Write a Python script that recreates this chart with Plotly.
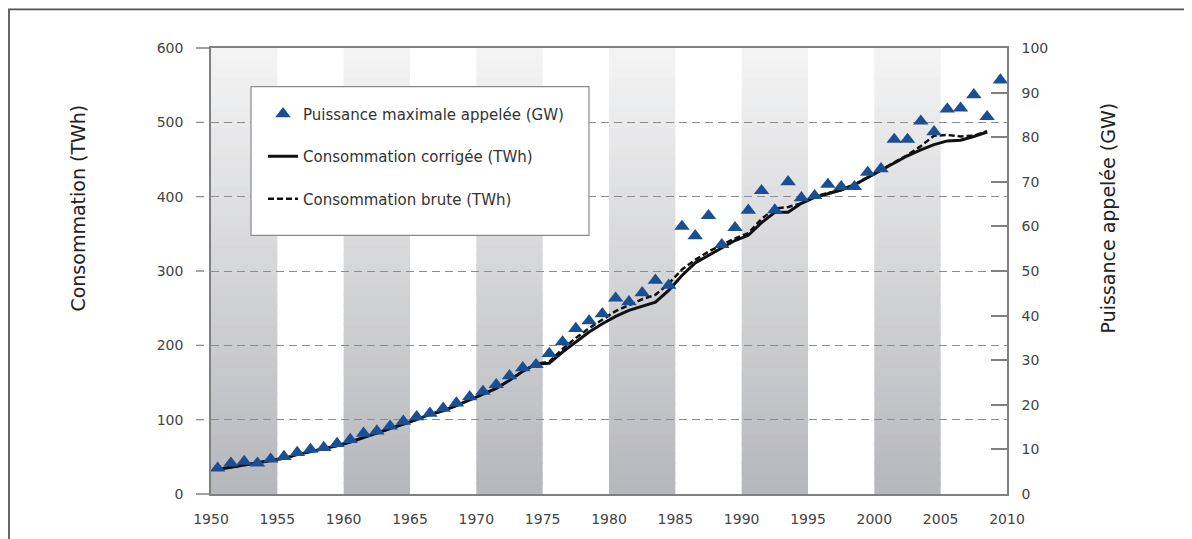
import plotly.graph_objects as go

# ---------------- data ----------------
years_peak = list(range(1950, 2010))
peak_gw = [5.8, 6.9, 7.3, 6.9, 7.8, 8.4, 9.3, 10.0, 10.4, 11.3,
           12.2, 13.6, 14.1, 15.2, 16.3, 17.3, 18.1, 19.2, 20.4, 21.8,
           23.0, 24.5, 26.5, 28.3, 29.0, 31.5, 34.1, 37.1, 38.8, 40.4,
           43.9, 43.1, 45.1, 47.9, 46.8, 60.0, 57.9, 62.4, 55.9, 59.7,
           63.6, 68.0, 63.7, 70.0, 66.4, 66.9, 69.4, 68.9, 68.9, 72.1,
           72.9, 79.5, 79.5, 83.6, 81.2, 86.3, 86.5, 89.5, 84.6, 92.8]

years_conso = list(range(1950, 2009))
conso_corrigee = [33, 36, 39, 41, 44, 48, 53, 57, 60, 65,
                  70, 76, 81, 87, 93, 100, 107, 112, 119, 127,
                  134, 142, 153, 165, 175, 176, 191, 205, 218, 229,
                  239, 247, 252, 258, 274, 294, 311, 321, 332, 341,
                  348, 365, 379, 379, 391, 399, 404, 409, 416, 426,
                  435, 445, 455, 463, 470, 475, 476, 481, 487]
conso_brute = [33, 36, 39, 41, 44, 48, 53, 57, 60, 65,
               70, 76, 81, 87, 93, 100, 107, 112, 119, 127,
               134, 142, 153, 165, 175, 178, 195, 210, 223, 235,
               246, 254, 262, 268, 283, 302, 315, 326, 335, 344,
               351, 370, 384, 386, 391, 400, 405, 409, 416, 426,
               435, 446, 456, 468, 482, 483, 481, 482, 488]

x_ticks = list(range(1950, 2011, 5))
y_left_ticks = [0, 100, 200, 300, 400, 500, 600]
y_right_ticks = [0, 10, 20, 30, 40, 50, 60, 70, 80, 90, 100]
band_starts = [1950, 1960, 1970, 1980, 1990, 2000]
BAND_WIDTH = 5
MID = 0.5  # values plotted at mid-year

# ---------------- geometry (window pixel targets) ----------------
OFF = 8                      # default page body margin
WIN_W, WIN_H = 1192, 539
W, H = WIN_W - OFF, WIN_H - OFF
PLOT_L, PLOT_R, PLOT_T, PLOT_B = 211, 1007, 48, 498
L = PLOT_L - OFF
T = PLOT_T - OFF
R = W - (PLOT_R - OFF)
B = H - (PLOT_B - OFF)
PW, PH = PLOT_R - PLOT_L, PLOT_B - PLOT_T


def px_x(px):
    return (px - PLOT_L) / PW


def px_y(py):
    return (PLOT_B - py) / PH


FONT = "DejaVu Sans"
AXIS_COL = "#808080"
GRID_COL = "#8c8c8c"

fig = go.Figure()

fig.add_trace(go.Scatter(
    x=[y + MID for y in years_conso], y=conso_corrigee,
    mode="lines", name="Consommation corrigée (TWh)",
    line=dict(color="#111111", width=3),
    legendgroup="g2", legendrank=2, yaxis="y"))
fig.add_trace(go.Scatter(
    x=[y + MID for y in years_conso], y=conso_brute,
    mode="lines", name="Consommation brute (TWh)",
    line=dict(color="#111111", width=2.5, dash="6px,3px"),
    legendgroup="g3", legendrank=3, yaxis="y"))
fig.add_trace(go.Scatter(
    x=[y + MID for y in years_peak], y=peak_gw,
    mode="markers", name="Puissance maximale appelée (GW)",
    marker=dict(symbol="triangle-up", size=13.5, color="#1b4f94"),
    legendgroup="g1", legendrank=1, yaxis="y2"))

shapes = []
# gradient grey bands (stacked thin slices)
N = 45
top_rgb = (0xf4, 0xf4, 0xf5)
bot_rgb = (0xb6, 0xb7, 0xba)
for xs in band_starts:
    for i in range(N):
        t = (i + 0.5) / N
        c = tuple(int(round(b + (tp - b) * t)) for b, tp in zip(bot_rgb, top_rgb))
        shapes.append(dict(type="rect", xref="x", yref="paper",
                           x0=xs, x1=xs + BAND_WIDTH,
                           y0=i / N, y1=min(1, (i + 1) / N + 0.004),
                           fillcolor="rgb(%d,%d,%d)" % c,
                           line=dict(width=0), layer="below"))

# left tick stubs (solid at ends, dashed elsewhere)
for v in y_left_ticks:
    end = v in (y_left_ticks[0], y_left_ticks[-1])
    shapes.append(dict(type="line", xref="paper", yref="paper",
                       x0=px_x(196), x1=0, y0=v / 600, y1=v / 600,
                       line=dict(color=AXIS_COL if end else GRID_COL,
                                 width=1.5 if end else 1.3,
                                 dash="solid" if end else "8px,5px"),
                       layer="above"))

# legend box
shapes.append(dict(type="rect", xref="paper", yref="paper",
                   x0=px_x(251), x1=px_x(589), y0=px_y(237), y1=px_y(87),
                   fillcolor="white", line=dict(color="#8a8a8a", width=1.2),
                   layer="above"))

# outer frame (starts at the first visible pixel of the figure)
shapes.append(dict(type="rect", xref="paper", yref="paper",
                   x0=px_x(9), x1=px_x(1220), y0=px_y(580), y1=px_y(9),
                   fillcolor="rgba(0,0,0,0)", line=dict(color="#555555", width=1.8),
                   layer="above"))

annotations = [
    dict(text="Consommation (TWh)", xref="paper", yref="paper",
         x=px_x(78), y=px_y(210), textangle=-90, showarrow=False,
         xanchor="center", yanchor="middle",
         font=dict(family=FONT, size=19, color="#222222")),
    dict(text="Puissance appelée (GW)", xref="paper", yref="paper",
         x=px_x(1108), y=px_y(220), textangle=-90, showarrow=False,
         xanchor="center", yanchor="middle",
         font=dict(family=FONT, size=19, color="#222222")),
]

fig.update_layout(
    width=W, height=H,
    margin=dict(l=L, r=R, t=T, b=B, pad=0),
    paper_bgcolor="white", plot_bgcolor="white",
    font=dict(family=FONT, size=14, color="#444444"),
    showlegend=True,
    legend=dict(x=px_x(263), y=px_y(98), xanchor="left", yanchor="top",
                bgcolor="rgba(0,0,0,0)", borderwidth=0,
                tracegroupgap=20,
                font=dict(family=FONT, size=15, color="#333333")),
    xaxis=dict(range=[1950, 2010], tickvals=x_ticks,
               ticktext=[str(v) for v in x_ticks],
               showgrid=False, zeroline=False,
               showline=True, linecolor=AXIS_COL, linewidth=1.5, mirror=True,
               ticks="outside", ticklen=11, tickcolor="rgba(0,0,0,0)",
               tickfont=dict(family=FONT, size=14, color="#444444")),
    yaxis=dict(range=[0, 600], tickvals=y_left_ticks,
               showgrid=True, gridcolor=GRID_COL, griddash="8px,5px", gridwidth=1.3,
               zeroline=False, showline=True, linecolor=AXIS_COL, linewidth=1.5,
               ticks="outside", ticklen=15, tickcolor="rgba(0,0,0,0)",
               ticklabelstandoff=8,
               tickfont=dict(family=FONT, size=14, color="#444444")),
    yaxis2=dict(range=[0, 100], tickvals=y_right_ticks, overlaying="y", side="right",
                showgrid=False, zeroline=False,
                showline=True, linecolor=AXIS_COL, linewidth=1.5,
                ticks="inside", ticklen=16, tickcolor=AXIS_COL, tickwidth=1.5,
                ticklabelstandoff=10,
                tickfont=dict(family=FONT, size=14, color="#444444")),
    shapes=shapes,
    annotations=annotations,
)

fig.write_html("out.html")
